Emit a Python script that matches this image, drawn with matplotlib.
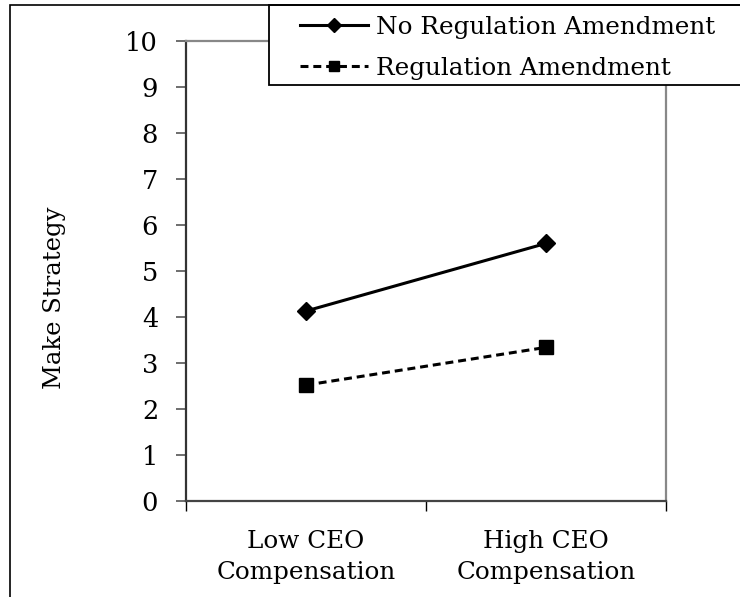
import matplotlib.pyplot as plt
from matplotlib.patches import Rectangle

# chart values
categories = ['Low CEO\nCompensation', 'High CEO\nCompensation']
no_regulation = [4.13, 5.60]
regulation = [2.52, 3.34]
y_ticks = list(range(0, 11))

plt.rcParams['font.family'] = ['DejaVu Serif']

fig = plt.figure(figsize=(7.4, 5.97), dpi=100)
ax = fig.add_axes([186 / 740, 1 - 501 / 597, 480 / 740, 460 / 597])

x = list(range(len(categories)))
ax.plot(x, no_regulation, color='black', lw=2.2, marker='D', markersize=9,
        label='No Regulation Amendment')
ax.plot(x, regulation, color='black', lw=2.2, marker='s', markersize=10,
        linestyle=(0, (2.6, 1.6)), label='Regulation Amendment')

ax.set_xlim(-0.5, 1.5)
ax.set_ylim(0, 10)
ax.set_yticks(y_ticks)
ax.set_yticklabels([str(t) for t in y_ticks])

# boundary ticks without labels, category labels on minor ticks
ax.set_xticks([-0.5, 0.5, 1.5])
ax.set_xticklabels([])
ax.set_xticks(x, minor=True)
ax.set_xticklabels(categories, minor=True, linespacing=1.45)
ax.tick_params(axis='x', which='major', length=7, width=1, color='black', direction='out')
ax.tick_params(axis='x', which='minor', length=0, pad=21, labelsize=17.7)
ax.tick_params(axis='y', length=7, width=1.2, color='#555555', direction='out',
               pad=13, labelsize=18.5)

ax.spines['left'].set_color('#333333')
ax.spines['bottom'].set_color('#444444')
ax.spines['top'].set_color('#888888')
ax.spines['right'].set_color('#888888')
for s in ax.spines.values():
    s.set_linewidth(1.6)

fig.text(55 / 740, 1 - 298 / 597, 'Make Strategy', rotation=90,
         ha='center', va='center', fontsize=17.5)

# outer border (only left and top visible in the reference)
fig.patches.append(Rectangle((10 / 740, -0.2), 1.2, 0.2 + 1 - 5 / 597,
                             transform=fig.transFigure, fill=False,
                             edgecolor='black', lw=1.2))

# legend box drawn separately, it runs past the right edge
ax.add_patch(Rectangle((269 / 740, 1 - 85 / 597), 0.7, 80 / 597,
                       transform=fig.transFigure, facecolor='white',
                       edgecolor='black', lw=1.3, zorder=4.5, clip_on=False))
leg = ax.legend(loc='upper left', bbox_to_anchor=(300 / 740, 1 - 16 / 597),
                bbox_transform=fig.transFigure, borderaxespad=0, borderpad=0,
                fontsize=17.7, handlelength=2.76, handletextpad=0.33,
                labelspacing=0.72, markerscale=0.75, frameon=False)
leg.set_zorder(6)

fig.savefig('out.png', dpi=100)
